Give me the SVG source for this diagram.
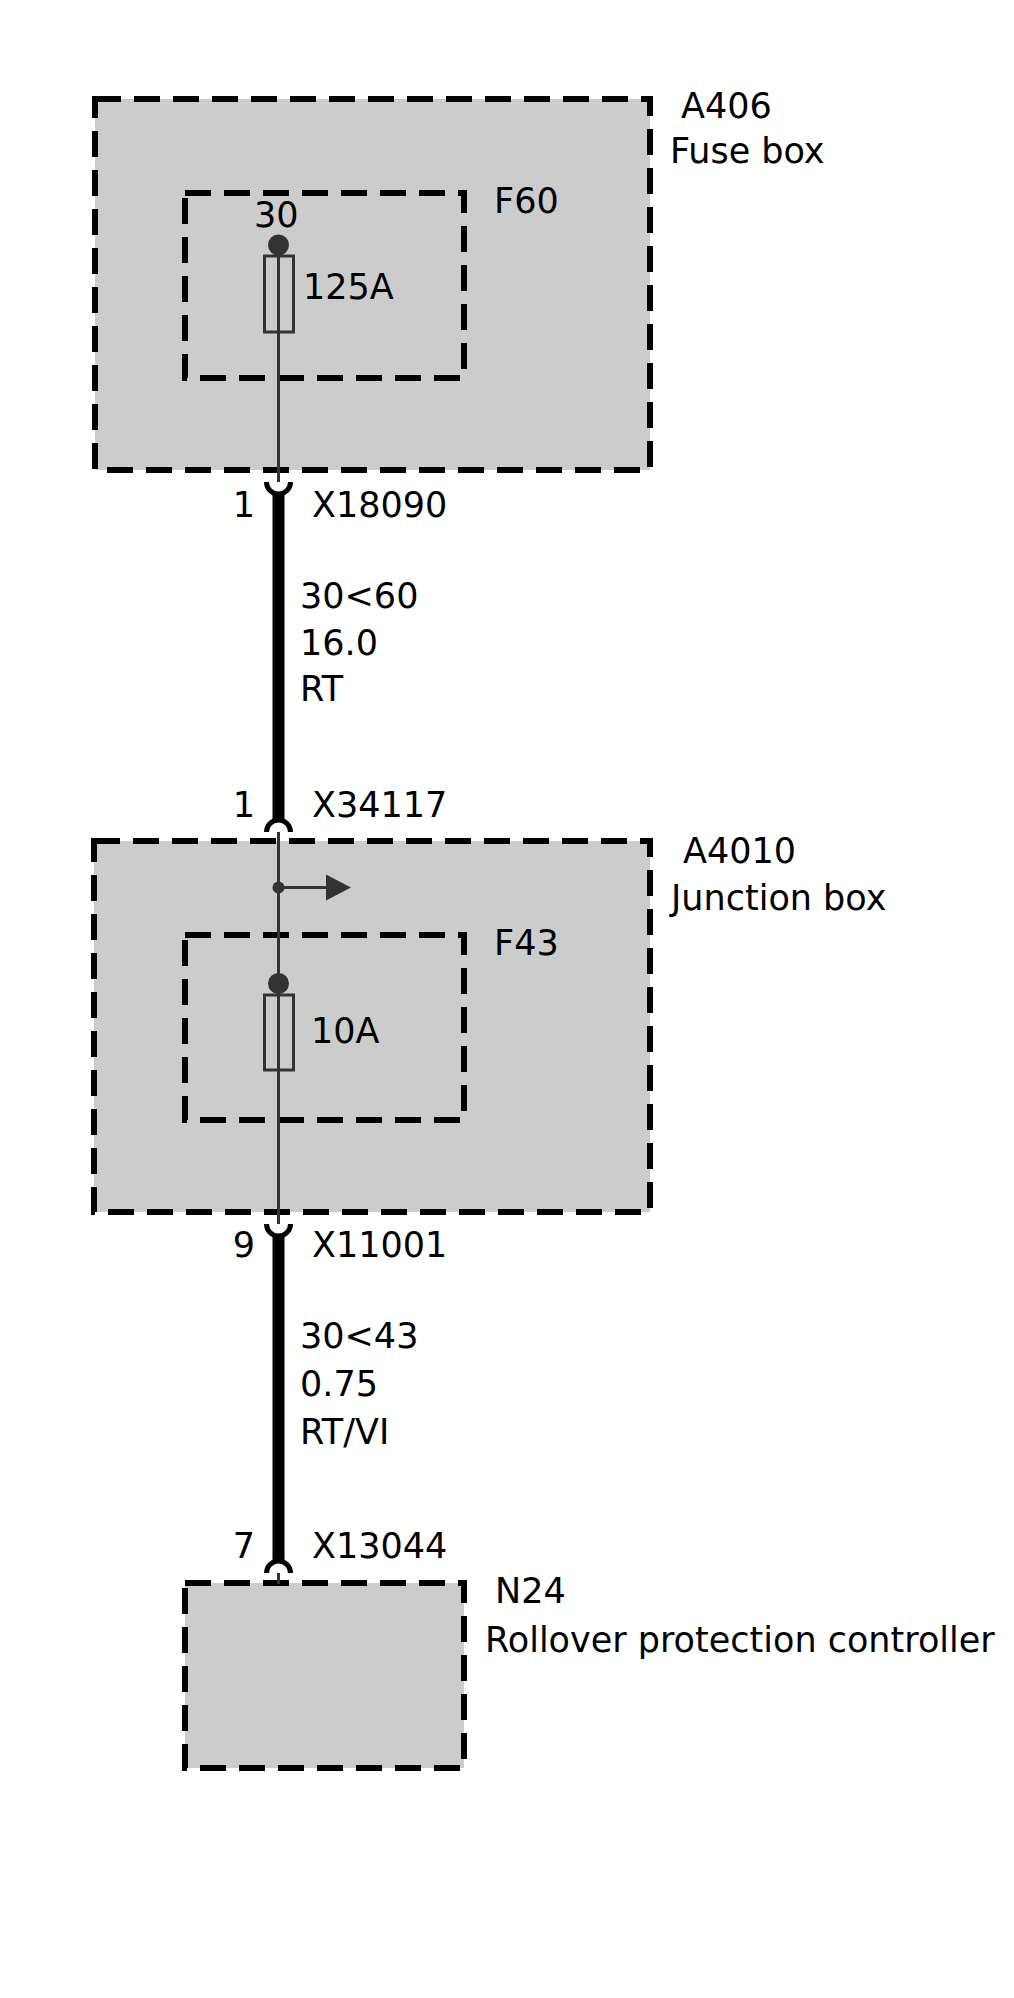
<svg xmlns="http://www.w3.org/2000/svg" width="1014" height="1998" viewBox="0 0 1014 1998">
<style>
.box{fill:#cccccc;stroke:#000;stroke-width:6;stroke-dasharray:26,13}
.ibox{fill:none;stroke:#000;stroke-width:6;stroke-dasharray:26,13}
.t{font-family:"DejaVu Sans",sans-serif;font-size:35px;fill:#000}
.e{text-anchor:end}
.thin{fill:none;stroke:#333;stroke-width:3}
.thick{fill:none;stroke:#000;stroke-width:12}
.pin{fill:none;stroke:#000;stroke-width:5}
.fuse{fill:none;stroke:#333;stroke-width:3}
.dot{fill:#333}
</style>
<rect width="1014" height="1998" fill="#fff"/>
<g id="A406">
<rect class="box" x="95" y="99" width="555" height="371"/>
<text class="t" x="681" y="118">A406</text>
<text class="t" x="670" y="163">Fuse box</text>
</g>
<g id="F60">
<rect class="ibox" x="185" y="193" width="279" height="185"/>
<text class="t" x="494" y="213">F60</text>
<text class="t" x="254" y="227">30</text>
<circle class="dot" cx="278.5" cy="245" r="10.5"/>
<rect class="fuse" x="264.5" y="256" width="29" height="76"/>
<text class="t" x="303" y="299">125A</text>
</g>
<g id="A4010">
<rect class="box" x="94" y="841" width="556" height="371"/>
<text class="t" x="683" y="863">A4010</text>
<text class="t" x="671" y="910">Junction box</text>
</g>
<g id="F43">
<rect class="ibox" x="185" y="935" width="279" height="185"/>
<text class="t" x="494" y="955">F43</text>
<circle class="dot" cx="278.5" cy="983.5" r="10.5"/>
<rect class="fuse" x="264.5" y="995" width="29" height="75"/>
<text class="t" x="311" y="1043">10A</text>
</g>
<g id="N24">
<rect class="box" x="185" y="1583" width="279" height="185"/>
<text class="t" x="495" y="1603">N24</text>
<text class="t" x="485" y="1652">Rollover protection controller</text>
</g>
<g id="X18090">
<path class="pin" d="M266.5,482 A12,12 0 0 0 290.5,482"/>
<text class="t e" x="255" y="517">1</text>
<text class="t" x="312" y="517">X18090</text>
</g>
<g id="X34117">
<path class="pin" d="M266.5,832 A12,12 0 0 1 290.5,832"/>
<text class="t e" x="255" y="817">1</text>
<text class="t" x="312" y="817">X34117</text>
</g>
<g id="X11001">
<path class="pin" d="M266.5,1224 A12,12 0 0 0 290.5,1224"/>
<text class="t e" x="255" y="1257">9</text>
<text class="t" x="312" y="1257">X11001</text>
</g>
<g id="X13044">
<path class="pin" d="M266.5,1573 A12,12 0 0 1 290.5,1573"/>
<text class="t e" x="255" y="1558">7</text>
<text class="t" x="312" y="1558">X13044</text>
</g>
<g id="connectors">
<path class="thin" d="M278.5,245 V482"/>
<path class="thick" d="M278.5,493 V821"/>
<path class="thin" d="M278.5,832 V1224"/>
<circle class="dot" cx="278.5" cy="887.5" r="6"/>
<path class="thin" d="M278.5,887.5 H328"/>
<polygon class="dot" points="326,874.5 351,887.5 326,900.5"/>
<path class="thick" d="M278.5,1235 V1562"/>
<path class="thin" d="M278.5,1573 V1584"/>
<g id="wire1-label">
<text class="t" x="300" y="608">30&lt;60</text>
<text class="t" x="300" y="655">16.0</text>
<text class="t" x="300" y="701">RT</text>
</g>
<g id="wire2-label">
<text class="t" x="300" y="1348">30&lt;43</text>
<text class="t" x="300" y="1396">0.75</text>
<text class="t" x="300" y="1444">RT/VI</text>
</g>
</g>
</svg>
